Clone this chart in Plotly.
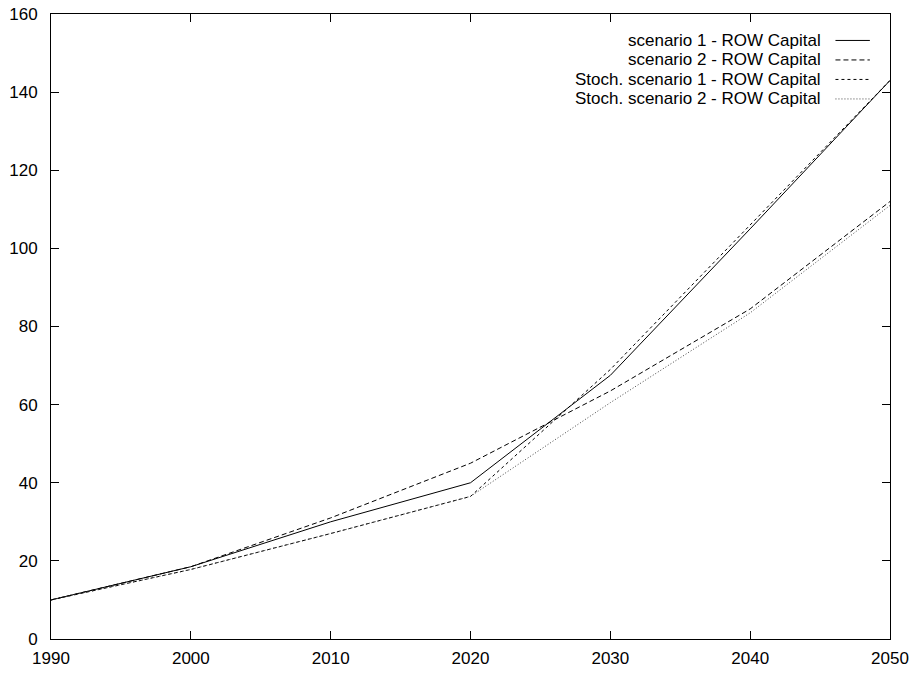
import plotly.graph_objects as go

years = [1990, 2000, 2010, 2020, 2030, 2040, 2050]
scen1 = [10, 18.5, 30, 40, 67.5, 105, 143]
scen2 = [10, 18.5, 31, 45, 63.5, 84.5, 112]
stoch1 = [10, 17.8, 27, 36.5, 69, 106, 143]
stoch2 = [10, 17.8, 27, 36.5, 60.5, 83.5, 111]
names = ["scenario 1 - ROW Capital", "scenario 2 - ROW Capital",
         "Stoch. scenario 1 - ROW Capital", "Stoch. scenario 2 - ROW Capital"]
series = [scen1, scen2, stoch1, stoch2]
dashes = ["solid", "5px,3px", "3px,3px", "1px,2px"]
colors = ["#000000", "#000000", "#000000", "#444444"]
xticks = [1990, 2000, 2010, 2020, 2030, 2040, 2050]
yticks = [0, 20, 40, 60, 80, 100, 120, 140, 160]

FONT = "Liberation Sans, Arial, sans-serif"

fig = go.Figure()
for nm, ys, d, c in zip(names, series, dashes, colors):
    fig.add_trace(go.Scatter(x=years, y=ys, mode="lines", name=nm,
                             line=dict(color=c, width=1, dash=d), showlegend=False))

# manual gnuplot-style legend (text right-aligned, sample on right)
ypos = [0.9577, 0.9265, 0.8953, 0.8641]
for nm, d, c, yp in zip(names, dashes, colors, ypos):
    fig.add_annotation(x=0.9195, y=yp, xref="paper", yref="paper", text=nm,
                       showarrow=False, xanchor="right", yanchor="middle",
                       borderpad=0,
                       font=dict(size=17, color="black", family=FONT))
    fig.add_shape(type="line", xref="paper", yref="paper", x0=0.935, x1=0.976, y0=yp, y1=yp,
                  line=dict(color=c, width=1, dash=d))

axis_common = dict(showgrid=False, zeroline=False, showline=True, linecolor="black",
                   linewidth=1, mirror="allticks", ticks="inside", ticklen=8,
                   tickcolor="black", automargin=False,
                   tickfont=dict(size=17, color="black", family=FONT))
fig.update_xaxes(range=[1990, 2050], tickmode="array", tickvals=xticks,
                 ticklabelstandoff=4, **axis_common)
fig.update_yaxes(range=[0, 160], tickmode="array", tickvals=yticks,
                 ticklabelstandoff=9, **axis_common)
fig.update_layout(width=915, height=673, margin=dict(l=51, r=25, t=14, b=34),
                  plot_bgcolor="white", paper_bgcolor="white")
fig.write_html("out.html")
